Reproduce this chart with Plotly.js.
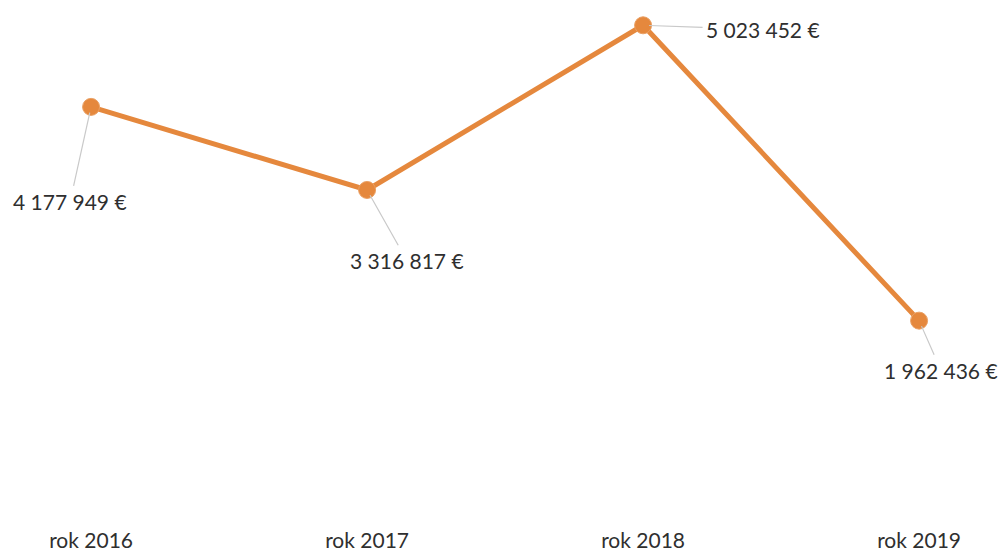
<!DOCTYPE html>
<html>
<head>
<meta charset="utf-8">
<script src="https://cdn.plot.ly/plotly-3.0.1.min.js"></script>
<style>html,body{margin:0;padding:0;background:#fff;}#chart{width:1003px;height:556px;}</style>
</head>
<body>
<div id="chart"></div>
<script>
const categories = ["rok 2016", "rok 2017", "rok 2018", "rok 2019"];
const values = [4177949, 3316817, 5023452, 1962436];
const labels = ["4 177 949 €", "3 316 817 €", "5 023 452 €", "1 962 436 €"];
const labelOffsetsX = [-21, 40, 120, 22];
const labelOffsetsY = [95, 71, 4, 50];

const orange = "#e5883d";
const trace = {
  x: categories,
  y: values,
  type: "scatter",
  mode: "lines+markers",
  line: {color: orange, width: 5},
  marker: {color: orange, size: 17, line: {color: "#eaa064", width: 1}},
  hoverinfo: "none"
};

const annotations = categories.map((c, i) => ({
  x: c, y: values[i], xref: "x", yref: "y",
  text: labels[i],
  showarrow: true, arrowhead: 0, arrowwidth: 1.2, arrowcolor: "#c9c9c9",
  ax: labelOffsetsX[i], ay: labelOffsetsY[i],
  standoff: 6, startstandoff: 2,
  font: {family: "Lato, 'Open Sans', sans-serif", size: 21, color: "#2f2f2f"}
}));

const layout = {
  width: 1003, height: 556,
  margin: {l: 0, r: 0, t: 10, b: 30},
  paper_bgcolor: "#ffffff", plot_bgcolor: "#ffffff",
  showlegend: false,
  xaxis: {
    type: "category",
    range: [-0.33, 3.304],
    showgrid: false, zeroline: false, showline: false,
    ticks: "", ticklabelstandoff: 0,
    tickfont: {family: "Lato, 'Open Sans', sans-serif", size: 21, color: "#2f2f2f"}
  },
  yaxis: {
    range: [-166000, 5182000],
    showgrid: false, zeroline: false, showline: false,
    showticklabels: false, ticks: ""
  },
  annotations: annotations
};

Plotly.newPlot("chart", [trace], layout, {displayModeBar: false, staticPlot: true});
</script>
</body>
</html>
